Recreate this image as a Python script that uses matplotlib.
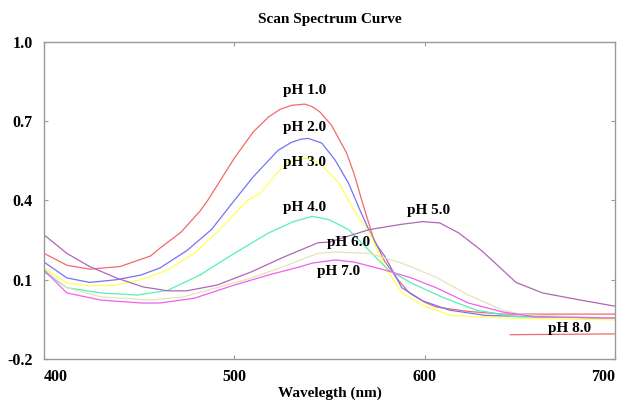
import matplotlib
matplotlib.use("Agg")
import matplotlib.pyplot as plt

# wavelength (nm) / absorbance for each pH
wl_1 = [400, 412, 424, 440, 456, 461, 472, 482, 486, 500, 510, 518, 524, 530, 537, 541, 545, 551, 559, 563, 567, 573, 579, 586, 592, 600, 606, 623, 641, 660, 700]
ab_1 = [0.20, 0.155, 0.14, 0.15, 0.19, 0.22, 0.28, 0.36, 0.40, 0.56, 0.66, 0.716, 0.745, 0.76, 0.765, 0.755, 0.735, 0.686, 0.58, 0.50, 0.40, 0.26, 0.17, 0.10, 0.05, 0.015, -0.003, -0.02, -0.03, -0.03, -0.03]

wl_2 = [400, 412, 424, 438, 451, 461, 475, 488, 500, 510, 523, 530, 535, 539, 546, 553, 560, 566, 570, 574, 579, 588, 599, 613, 632, 658, 700]
ab_2 = [0.167, 0.107, 0.09, 0.10, 0.118, 0.145, 0.21, 0.29, 0.40, 0.49, 0.59, 0.62, 0.632, 0.635, 0.617, 0.553, 0.466, 0.364, 0.30, 0.24, 0.19, 0.07, 0.02, -0.015, -0.035, -0.04, -0.045]

wl_3 = [400, 412, 424, 438, 451, 465, 479, 491, 507, 514, 522, 528, 535, 540, 547, 555, 562, 567, 571, 579, 588, 600, 614, 641, 700]
ab_3 = [0.145, 0.088, 0.077, 0.08, 0.10, 0.137, 0.20, 0.28, 0.40, 0.43, 0.50, 0.545, 0.558, 0.56, 0.527, 0.466, 0.375, 0.32, 0.28, 0.15, 0.05, 0.0, -0.035, -0.045, -0.052]

wl_4 = [400, 412, 430, 449, 465, 482, 500, 518, 531, 541, 550, 560, 571, 581, 593, 609, 627, 648, 700]
ab_4 = [0.13, 0.07, 0.05, 0.042, 0.06, 0.118, 0.20, 0.277, 0.32, 0.34, 0.327, 0.29, 0.21, 0.137, 0.088, 0.035, -0.015, -0.04, -0.045]

wl_5 = [400, 412, 424, 438, 452, 465, 475, 491, 509, 526, 544, 550, 571, 588, 599, 608, 618, 630, 641, 648, 662, 682, 700]
ab_5 = [0.27, 0.20, 0.15, 0.107, 0.073, 0.058, 0.058, 0.08, 0.13, 0.186, 0.24, 0.243, 0.29, 0.31, 0.32, 0.315, 0.277, 0.21, 0.137, 0.09, 0.05, 0.023, 0.0]

wl_6 = [400, 412, 430, 456, 473, 491, 509, 526, 544, 553, 571, 588, 606, 623, 641, 652, 700]
ab_6 = [0.14, 0.07, 0.035, 0.023, 0.035, 0.07, 0.107, 0.15, 0.20, 0.205, 0.20, 0.163, 0.11, 0.042, -0.015, -0.033, -0.045]

wl_7 = [400, 412, 430, 451, 461, 479, 500, 518, 535, 541, 553, 563, 579, 593, 606, 623, 641, 658, 700]
ab_7 = [0.137, 0.05, 0.023, 0.012, 0.012, 0.03, 0.08, 0.118, 0.15, 0.163, 0.175, 0.167, 0.137, 0.107, 0.07, 0.012, -0.022, -0.04, -0.045]

wl_8 = [645, 700]
ab_8 = [-0.108, -0.105]

series = [
    (wl_1, ab_1, "#f26a6a"),
    (wl_2, ab_2, "#7474f2"),
    (wl_3, ab_3, "#ffff55"),
    (wl_4, ab_4, "#55f0b8"),
    (wl_5, ab_5, "#b066b8"),
    (wl_6, ab_6, "#e4e4b8"),
    (wl_7, ab_7, "#f060f0"),
    (wl_8, ab_8, "#f26a6a"),
]

labels = ["pH 1.0", "pH 2.0", "pH 3.0", "pH 4.0", "pH 5.0", "pH 6.0", "pH 7.0", "pH 8.0"]
label_x = [537, 537, 537, 537, 602, 560, 555, 676]
label_y = [0.818, 0.678, 0.542, 0.372, 0.364, 0.24, 0.13, -0.083]

x_ticks = [400, 500, 600, 700]
y_ticks = [-0.2, 0.1, 0.4, 0.7, 1.0]

plt.rcParams["font.family"] = ["Liberation Serif", "DejaVu Serif"]
plt.rcParams["font.weight"] = "bold"

fig = plt.figure(figsize=(6.23, 4.0), dpi=100)
ax = fig.add_axes([0.0706, 0.1025, 0.9164, 0.7925])

for wl, ab, c in series:
    ax.plot(wl, ab, color=c, linewidth=0.9)

for t, x, y in zip(labels, label_x, label_y):
    ax.text(x, y, t, ha="center", va="center", fontsize=11, fontweight="bold")

ax.set_xlim(400, 700)
ax.set_ylim(-0.2, 1.0)
ax.set_xticks(x_ticks)
ax.set_yticks(y_ticks)
ax.set_xticklabels([str(v) for v in x_ticks], fontsize=11.5, fontweight="bold")
ax.set_yticklabels([f"{v:.1f}" for v in y_ticks], fontsize=11.5, fontweight="bold")
xl = ax.get_xticklabels()
xl[0].set_ha("left")
xl[-1].set_ha("right")

ax.tick_params(direction="in", length=3, color="#999999", top=True, right=True, pad=7)
ax.tick_params(axis="y", pad=8)
for s in ax.spines.values():
    s.set_color("#999999")
    s.set_linewidth(1.0)

ax.set_title("Scan Spectrum Curve", fontsize=11, fontweight="bold", pad=14)
ax.set_xlabel("Wavelegth (nm)", fontsize=11, fontweight="bold", labelpad=1)

fig.savefig("out.png", dpi=100)
